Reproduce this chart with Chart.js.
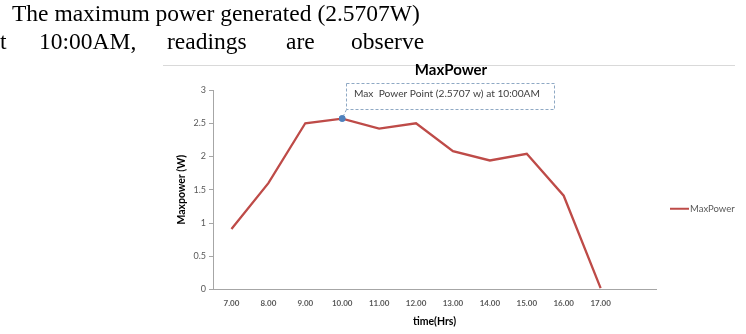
<!DOCTYPE html>
<html><head><meta charset="utf-8">
<script src="https://cdn.jsdelivr.net/npm/chart.js@4.4.0/dist/chart.umd.min.js"></script>
<style>
html,body{margin:0;padding:0;background:#fff;}
#wrap{position:relative;width:746px;height:334px;overflow:hidden;background:#fff;}
canvas{position:absolute;left:0;top:0;}
.t{position:absolute;font-family:"Liberation Serif","Times New Roman",serif;font-size:23.5px;color:#000;white-space:nowrap;line-height:1;z-index:2;}
</style></head>
<body><div id="wrap">
<canvas id="c" width="746" height="334"></canvas>
<div class="t" style="left:12px;top:1.5px">The maximum power generated (2.5707W)</div>
<div class="t" style="left:0px;top:29.5px">t</div>
<div class="t" style="left:39px;top:29.5px">10:00AM,</div>
<div class="t" style="left:167px;top:29.5px">readings</div>
<div class="t" style="left:286px;top:29.5px">are</div>
<div class="t" style="left:351px;top:29.5px">observe</div>
</div>
<script>
const categories = ['7.00','8.00','9.00','10.00','11.00','12.00','13.00','14.00','15.00','16.00','17.00',''];
const maxPower = [0.91, 1.60, 2.50, 2.5707, 2.42, 2.50, 2.08, 1.94, 2.04, 1.41, 0.02, null];
const yMin = 0, yMax = 3, yStep = 0.5;
const seriesName = 'MaxPower';
const chartTitle = 'MaxPower';
const xTitle = 'time(Hrs)';
const yTitle = 'Maxpower (W)';
const annotationText = 'Max  Power Point (2.5707 w) at 10:00AM';

const maxIndex = maxPower.reduce((bi, v, i, a) => (v !== null && v > a[bi] ? i : bi), 0);
const lineColor = '#BE4B48';
const axisColor = '#A6A6A6';
const labelColor = '#595959';
const FONT = 'Lato, "Open Sans", sans-serif';

const extras = {
  id: 'extras',
  afterDatasetsDraw(chart) {
    const ctx = chart.ctx;
    const ca = chart.chartArea;
    ctx.save();
    ctx.strokeStyle = '#D9D9D9';
    ctx.lineWidth = 1;
    ctx.beginPath();
    ctx.moveTo(163, 65.5); ctx.lineTo(735, 65.5);
    ctx.stroke();
    ctx.fillStyle = '#000';
    ctx.font = 'bold 15px ' + FONT;
    ctx.textAlign = 'center';
    ctx.textBaseline = 'alphabetic';
    ctx.fillText(chartTitle, 451, 75);
    const ly = (ca.top + ca.bottom) / 2 + 19;
    ctx.strokeStyle = lineColor;
    ctx.lineWidth = 2;
    ctx.beginPath();
    ctx.moveTo(670, ly); ctx.lineTo(689, ly);
    ctx.stroke();
    ctx.fillStyle = labelColor;
    ctx.font = '9.5px ' + FONT;
    ctx.textAlign = 'left';
    ctx.textBaseline = 'middle';
    ctx.fillText(seriesName, 690, ly);
    const meta = chart.getDatasetMeta(0);
    const pt = meta.data[maxIndex];
    const px = pt.x, py = pt.y;
    const bx = Math.round(px + 4) + 0.5, by = Math.round(py - 36) + 0.5;
    const bw = 208, bh = 26;
    ctx.strokeStyle = '#8FA9C4';
    ctx.lineWidth = 1;
    ctx.setLineDash([3, 2]);
    ctx.strokeRect(bx, by, bw, bh);
    ctx.beginPath();
    ctx.moveTo(bx, by + bh); ctx.lineTo(px, py);
    ctx.stroke();
    ctx.setLineDash([]);
    ctx.fillStyle = '#404040';
    ctx.font = '10.2px ' + FONT;
    ctx.textAlign = 'left';
    ctx.textBaseline = 'middle';
    ctx.fillText(annotationText, bx + 7.5, by + 10.5);
    ctx.fillStyle = '#4F81BD';
    ctx.beginPath();
    ctx.arc(px, py, 3.2, 0, Math.PI * 2);
    ctx.fill();
    ctx.restore();
  }
};

new Chart(document.getElementById('c'), {
  type: 'line',
  data: {
    labels: categories,
    datasets: [{
      label: seriesName,
      data: maxPower,
      borderColor: lineColor,
      borderWidth: 2.3,
      tension: 0,
      fill: false,
      pointRadius: (c) => (c.dataIndex === maxIndex ? 3.2 : 0),
      pointBackgroundColor: '#4F81BD',
      pointBorderColor: '#4F81BD',
      pointBorderWidth: 0
    }]
  },
  options: {
    responsive: false,
    animation: false,
    devicePixelRatio: 1,
    layout: { padding: { left: 0, top: 90, right: 90, bottom: 0 } },
    plugins: { legend: { display: false }, title: { display: false }, tooltip: { enabled: false } },
    scales: {
      x: {
        type: 'category',
        offset: true,
        grid: { display: false, drawTicks: false },
        border: { display: true, color: axisColor, width: 1 },
        ticks: { color: labelColor, font: { family: FONT, size: 8, weight: 'bold' }, padding: 9, maxRotation: 0, autoSkip: false },
        title: { display: true, text: xTitle, color: '#000', font: { family: FONT, size: 10.5, weight: 'bold' }, padding: { top: 0, bottom: 6 } },
        afterFit(s) { s.height = 44.5; }
      },
      y: {
        min: yMin, max: yMax,
        ticks: { stepSize: yStep, color: labelColor, font: { family: FONT, size: 9 }, padding: 3, callback: (v) => String(Number(v)) },
        grid: { display: true, drawOnChartArea: false, drawTicks: true, tickLength: 4, color: axisColor },
        border: { display: true, color: axisColor, width: 1 },
        title: { display: true, text: yTitle, color: '#000', font: { family: FONT, size: 10.5, weight: 'bold' }, padding: { top: 175, bottom: 0 } },
        afterFit(s) { s.width = 213; }
      }
    }
  },
  plugins: [extras]
});
</script>
</body></html>
